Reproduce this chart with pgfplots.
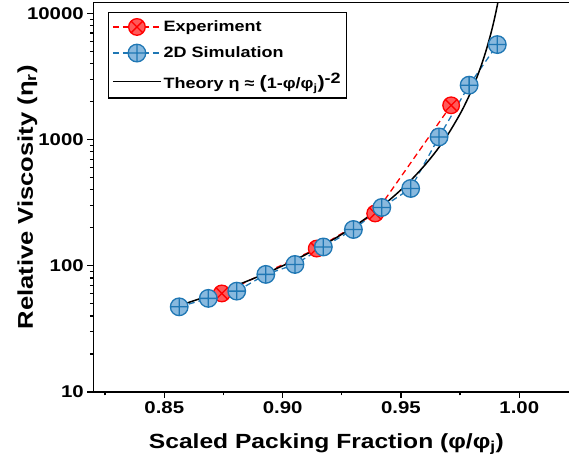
\documentclass[border=0pt]{standalone}
\usepackage{fontspec}
\setmainfont{Liberation Sans}[FakeStretch=1.2]
\usepackage{pgfplots}
\pgfplotsset{compat=1.18}

\definecolor{simblue}{RGB}{31,119,180}
\definecolor{simfill}{RGB}{137,185,222}
\definecolor{expred}{RGB}{255,0,0}
\definecolor{expfill}{RGB}{255,90,90}

\begin{document}
\begin{tikzpicture}
\begin{axis}[
  scale only axis,
  width=475.7pt, height=389.5pt,
  xmin=0.82, xmax=1.021,
  ymode=log, ymin=10, ymax=12200,
  axis x line*=box, axis y line*=left,
  axis line style={line width=1.6pt},
  xtick pos=left, ytick pos=left,
  tick align=outside,
  major tick length=6pt, minor tick length=3.5pt,
  every tick/.style={black, line width=1.3pt},
  xtick={0.85,0.90,0.95,1.00},
  xticklabels={0.85,0.90,0.95,1.00},
  minor xtick={0.825,0.875,0.925,0.975},
  ytick={10,100,1000,10000},
  yticklabels={10,100,1000,10000},
  /pgf/number format/assume math mode=true,
  tick label style={font=\bfseries\fontsize{17}{19}\selectfont},
  xlabel={Scaled Packing Fraction (φ/φ\textsubscript{j})},
  ylabel={Relative Viscosity (η\textsubscript{r})},
  label style={font=\bfseries\fontsize{20.5}{24}\selectfont},
  xlabel style={at={(axis description cs:0.49,-0.1438)}, anchor=base},
  ylabel style={at={(axis description cs:-0.1268,0.5)}, anchor=base, font=\bfseries\fontsize{21.3}{24}\selectfont},
  legend style={
    at={(axis description cs:0.031,0.9756)}, anchor=north west,
    draw=black, line width=1.3pt,
    font=\bfseries\fontsize{15}{17}\selectfont,
    legend cell align=left,
    inner xsep=3.5pt, inner ysep=6pt,
    row sep=9pt,
  },
  legend image code/.code={
    \draw[mark repeat=2, mark phase=2, #1]
      plot coordinates {(0pt,0pt) (24pt,0pt) (48pt,0pt)};
  },
]

% measured viscosity
\addplot[color=expred, line width=1.3pt, dash pattern=on 6pt off 4pt,
  mark=otimes*, mark size=8.3pt,
  mark options={solid, draw=expred, fill=expfill, line width=1.3pt}]
  coordinates {
  (0.8743, 60.4)
  (0.9144, 137)
  (0.9391, 260)
  (0.9712, 1870)
};
\addlegendentry{Experiment}

% 2D simulation
\addplot[color=simblue, line width=1.3pt, dash pattern=on 6pt off 4pt,
  mark=oplus*, mark size=8.8pt,
  mark options={solid, draw=simblue, fill=simfill, line width=1.3pt}]
  coordinates {
  (0.8563, 47.3)
  (0.8686, 55.2)
  (0.8806, 63)
  (0.8929, 85.5)
  (0.9052, 102.5)
  (0.9172, 141)
  (0.9299, 194)
  (0.9419, 290)
  (0.9541, 410)
  (0.9661, 1050)
  (0.9788, 2700)
  (0.9907, 5660)
};
\addlegendentry{2D Simulation}

% divergence near jamming, eta = (1 - phi/phi_j)^-2
\addplot[black, line width=1.5pt, smooth, no marks] coordinates {
  (0.856, 48.23) (0.863, 53.28) (0.870, 59.17) (0.875, 64.00)
  (0.880, 69.44) (0.885, 75.61) (0.890, 82.64) (0.895, 90.70)
  (0.900, 100.0) (0.905, 110.80) (0.910, 123.46) (0.915, 138.41)
  (0.920, 156.25) (0.925, 177.78) (0.930, 204.08) (0.935, 236.69)
  (0.940, 277.78) (0.945, 330.58) (0.950, 400.0) (0.955, 493.83)
  (0.960, 625.0) (0.965, 816.33) (0.970, 1111.1) (0.975, 1600.0)
  (0.978, 2066.1) (0.980, 2500.0) (0.982, 3086.4) (0.984, 3906.3)
  (0.986, 5102.0) (0.988, 6944.4) (0.989, 8264.5) (0.990, 10000)
  (0.991, 12345.7)
};
\addlegendentry{Theory η ≈ {\fontsize{18}{20}\selectfont(}1-φ/φ\textsubscript{j}{\fontsize{18}{20}\selectfont)}\textsuperscript{\fontsize{15}{17}\selectfont-2}}

\end{axis}
\pgfresetboundingbox
\path[use as bounding box] (-93.3pt,-67pt) rectangle (475.7pt,392pt);
\end{tikzpicture}
\end{document}
